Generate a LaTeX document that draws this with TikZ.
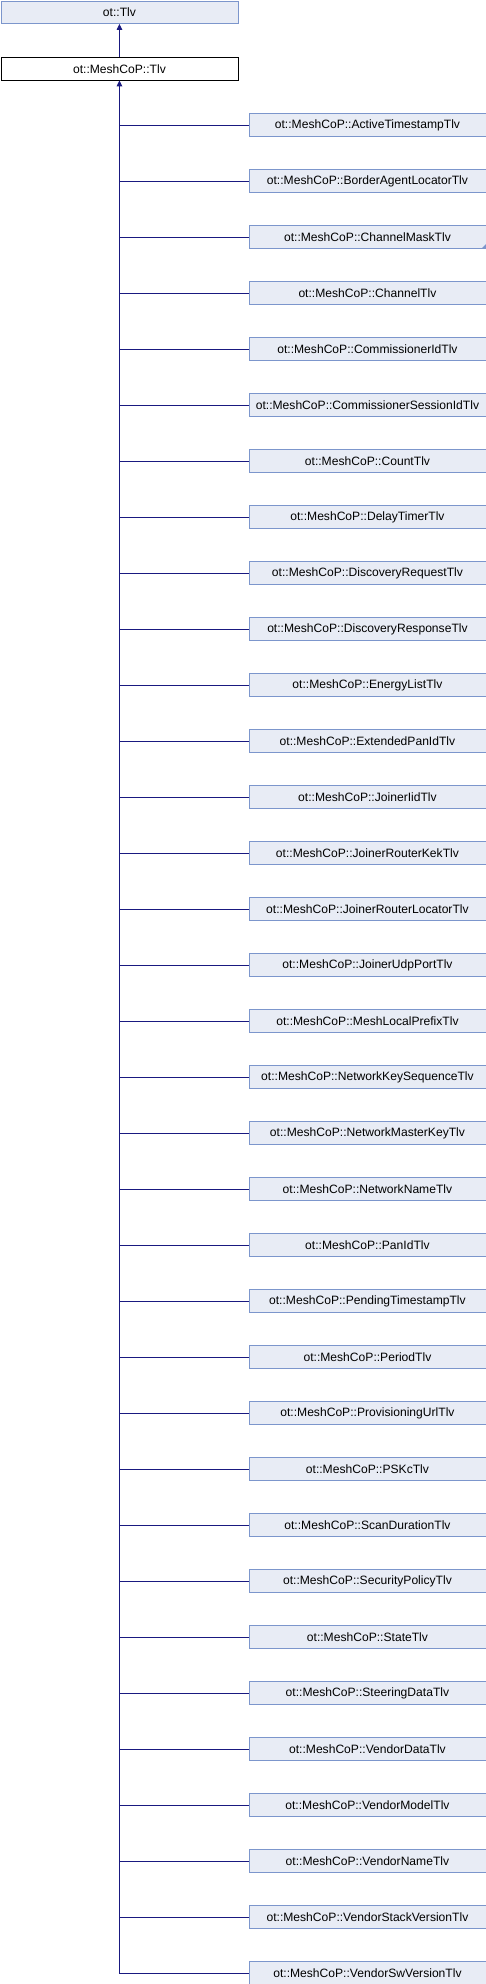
\documentclass[tikz,border=0pt]{standalone}
\usepackage{fontspec}
\setmainfont{Liberation Sans}
\usetikzlibrary{arrows.meta}
\definecolor{boxfill}{RGB}{232,236,245}
\definecolor{boxline}{RGB}{124,150,204}
\definecolor{edgecol}{RGB}{25,25,128}
\tikzset{
  cls/.style={draw=boxline, fill=boxfill, line width=0.9pt, minimum width=237pt, minimum height=22.5pt, inner sep=0pt, anchor=north west, font=\fontsize{12.1}{13}\selectfont},
  basecls/.style={cls, draw=black, fill=white},
  edge/.style={draw=edgecol, line width=1pt},
  inh/.style={edge, {Triangle[length=6pt,width=5.5pt]}-}
}
\begin{document}
\begin{tikzpicture}[x=1pt,y=-1pt]
\useasboundingbox (0,0) rectangle (486,1984);
\node[cls] (tlv) at (0.5,0.5) {ot::Tlv};
\node[basecls] (base) at (0.5,57) {ot::MeshCoP::Tlv};
\draw[inh] (tlv.south) -- (base.north);
\foreach \name [count=\i from 0] in {ActiveTimestampTlv,BorderAgentLocatorTlv,ChannelMaskTlv,ChannelTlv,CommissionerIdTlv,CommissionerSessionIdTlv,CountTlv,DelayTimerTlv,DiscoveryRequestTlv,DiscoveryResponseTlv,EnergyListTlv,ExtendedPanIdTlv,JoinerIidTlv,JoinerRouterKekTlv,JoinerRouterLocatorTlv,JoinerUdpPortTlv,MeshLocalPrefixTlv,NetworkKeySequenceTlv,NetworkMasterKeyTlv,NetworkNameTlv,PanIdTlv,PendingTimestampTlv,PeriodTlv,ProvisioningUrlTlv,PSKcTlv,ScanDurationTlv,SecurityPolicyTlv,StateTlv,SteeringDataTlv,VendorDataTlv,VendorModelTlv,VendorNameTlv,VendorStackVersionTlv,VendorSwVersionTlv}{
  \node[cls] (c\i) at (248.5,{113.3+56*\i}) {ot::MeshCoP::\name};
}
\foreach \i in {0,...,32}{
  \draw[edge] (c\i.west) -- (c\i.west -| base.south);
}
\draw[inh] (base.south) -- (c33.west -| base.south) -- (c33.west);
\fill[boxline] (c2.south east) -- ++(0,-5) -- ++(-5,5) -- cycle;
\end{tikzpicture}
\end{document}
